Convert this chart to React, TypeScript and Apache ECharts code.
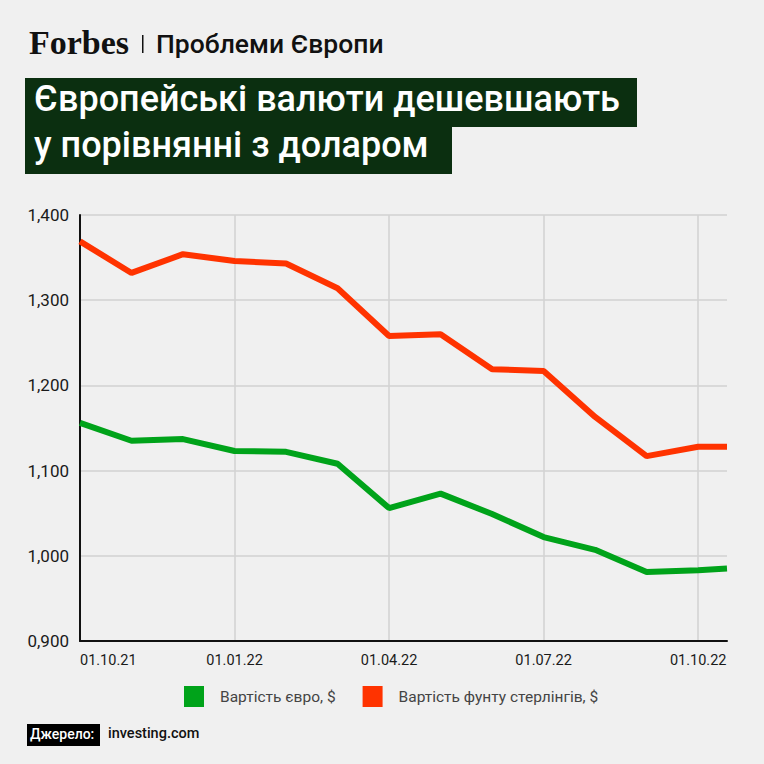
import React, { useEffect, useRef } from "react";
import * as echarts from "echarts";

// months since 01.10.21 (last point ~ mid-October 2022)
const monthOffsets = [0, 1, 2, 3, 4, 5, 6, 7, 8, 9, 10, 11, 12, 12.56];
const euroValues = [1.156, 1.135, 1.137, 1.123, 1.122, 1.108, 1.056, 1.073, 1.049, 1.022, 1.007, 0.981, 0.983, 0.985];
const poundValues = [1.369, 1.332, 1.354, 1.346, 1.343, 1.314, 1.258, 1.26, 1.219, 1.217, 1.163, 1.117, 1.128, 1.128];
const xTickOffsets = [0, 3, 6, 9, 12];
const xTickLabels = ["01.10.21", "01.01.22", "01.04.22", "01.07.22", "01.10.22"];
const seriesNames = ["Вартість євро, $", "Вартість фунту стерлінгів, $"];
const titleLines = ["Європейські валюти дешевшають", "у порівнянні з доларом"];
const headerTitle = "Проблеми Європи";
const sourceLabel = "Джерело:";
const sourceText = "investing.com";

const FONT = "Roboto, 'Noto Sans', sans-serif";

export default function App() {
  const ref = useRef<HTMLDivElement>(null);
  useEffect(() => {
    document.body.style.margin = "0";
    if (!ref.current) return;
    const chart = echarts.init(ref.current, undefined, { renderer: "svg" });
    const euro = monthOffsets.map((m, i) => [m, euroValues[i]]);
    const pound = monthOffsets.map((m, i) => [m, poundValues[i]]);
    chart.setOption({
      animation: false,
      backgroundColor: "#f0f0f0",
      textStyle: { fontFamily: FONT },
      grid: { left: 80, right: 37, top: 215, bottom: 123 },
      xAxis: {
        type: "value",
        min: 0,
        max: 12.56,
        interval: 3,
        axisLine: { show: true, lineStyle: { color: "#111", width: 2 } },
        axisTick: { show: false },
        splitLine: { show: true, showMaxLine: false, showMinLine: false, lineStyle: { color: "#d2d2d2", width: 1.5 } },
        axisLabel: {
          margin: 12,
          fontSize: 14.5,
          color: "#1a1a1a",
          fontFamily: FONT,
          showMaxLabel: false,
          alignMinLabel: "left",
          formatter: (v: number) => {
            const idx = xTickOffsets.indexOf(Math.round(v * 100) / 100);
            return idx >= 0 ? xTickLabels[idx] : "";
          },
        },
      },
      yAxis: {
        type: "value",
        min: 0.9,
        max: 1.4,
        interval: 0.1,
        axisLine: { show: true, lineStyle: { color: "#111", width: 2 } },
        axisTick: { show: false },
        splitLine: { show: true, lineStyle: { color: "#d2d2d2", width: 1.5 } },
        axisLabel: {
          margin: 11,
          fontSize: 17,
          color: "#1a1a1a",
          fontFamily: FONT,
          formatter: (v: number) => v.toFixed(3).replace(".", ","),
        },
      },
      legend: {
        left: 179,
        top: 681,
        icon: "rect",
        itemWidth: 20,
        itemHeight: 21,
        itemGap: 27,
        textStyle: { fontSize: 15.5, color: "#444", fontFamily: FONT, padding: [0, 0, 0, 11] },
        data: seriesNames,
      },
      series: [
        {
          name: seriesNames[0],
          type: "line",
          data: euro,
          symbol: "none",
          lineStyle: { color: "#00a31a", width: 6 },
          itemStyle: { color: "#00a31a" },
        },
        {
          name: seriesNames[1],
          type: "line",
          data: pound,
          symbol: "none",
          lineStyle: { color: "#ff3300", width: 6 },
          itemStyle: { color: "#ff3300" },
        },
      ],
      graphic: [
        {
          type: "text",
          left: 29,
          top: 25,
          style: { text: "Forbes", font: "bold 34px 'Liberation Serif', serif", fill: "#111" },
        },
        {
          type: "rect",
          shape: { x: 142, y: 35, width: 1.5, height: 18 },
          style: { fill: "#111" },
        },
        {
          type: "text",
          left: 156,
          top: 30,
          style: { text: headerTitle, font: `500 26.5px ${FONT}`, fill: "#111" },
        },
        {
          type: "rect",
          shape: { x: 25, y: 78, width: 612, height: 49 },
          style: { fill: "#0b2f10" },
        },
        {
          type: "rect",
          shape: { x: 25, y: 126, width: 427, height: 48 },
          style: { fill: "#0b2f10" },
        },
        {
          type: "text",
          left: 34,
          top: 81,
          style: { text: titleLines[0], font: `500 36px ${FONT}`, fill: "#fff" },
        },
        {
          type: "text",
          left: 34,
          top: 127,
          style: { text: titleLines[1], font: `500 36px ${FONT}`, fill: "#fff" },
        },
        {
          type: "rect",
          shape: { x: 27, y: 724, width: 73, height: 22 },
          style: { fill: "#000" },
        },
        {
          type: "text",
          left: 30,
          top: 727,
          style: { text: sourceLabel, font: `500 14px ${FONT}`, fill: "#fff" },
        },
        {
          type: "text",
          left: 108,
          top: 726,
          style: { text: sourceText, font: `500 14.5px ${FONT}`, fill: "#111" },
        },
      ],
    });
    return () => chart.dispose();
  }, []);
  return <div ref={ref} style={{ width: 764, height: 764 }} />;
}
